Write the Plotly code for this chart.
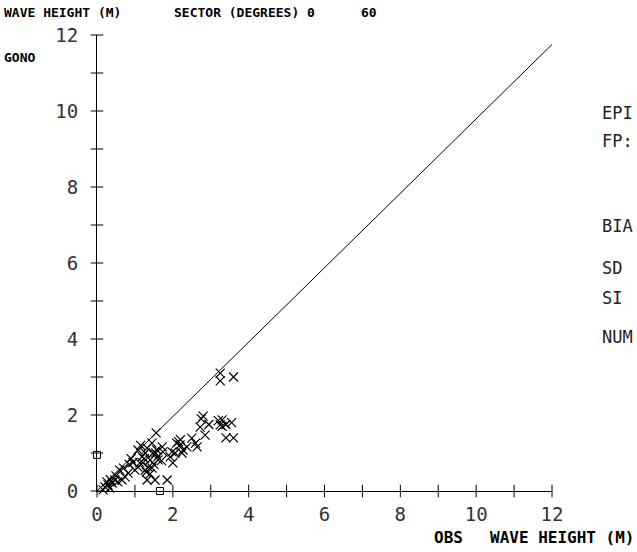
import plotly.graph_objects as go

# ---- data ----
obs_x = [3.25, 3.25, 3.6, 3.2, 3.4, 3.55, 3.3, 3.4, 3.6, 2.8, 2.75, 2.72, 2.95, 2.85,
         2.64, 2.6, 3.25, 3.3, 1.56, 1.45, 1.72, 2.1, 2.19, 2.27, 2.5, 2.37, 2.06, 1.93,
         2.0, 1.85, 1.53, 1.32, 1.27, 1.21, 1.35, 1.4, 1.19, 1.08, 1.13, 1.08, 1.0, 0.82,
         0.74, 0.66, 0.55, 0.47, 0.4, 0.29, 0.21, 0.26, 0.34, 0.16, 1.61, 1.74, 1.58,
         1.48, 1.27, 1.32, 1.98, 2.24, 1.15, 0.9, 0.6, 0.85, 1.45, 1.5, 1.3, 1.4, 0.5,
         0.35, 0.7, 0.95, 1.6, 1.7, 2.15, 2.2, 1.55, 1.25]
gono_y = [3.1, 2.9, 3.0, 1.85, 1.75, 1.8, 1.7, 1.4, 1.4, 1.97, 1.9, 1.68, 1.75, 1.47,
          1.16, 1.26, 1.74, 1.87, 1.53, 1.26, 1.16, 1.26, 1.21, 1.08, 1.39, 1.16, 1.0, 0.9,
          0.74, 0.29, 0.29, 0.29, 0.55, 0.74, 0.63, 0.82, 0.9, 1.08, 0.74, 0.63, 0.55, 0.47,
          0.37, 0.29, 0.24, 0.29, 0.21, 0.16, 0.11, 0.24, 0.08, 0.03, 0.82, 1.03, 1.08,
          1.0, 1.0, 1.13, 1.03, 1.0, 1.2, 0.85, 0.55, 0.7, 0.6, 0.7, 0.5, 0.45, 0.4,
          0.3, 0.6, 0.75, 0.9, 0.8, 1.3, 1.35, 1.0, 0.85]
square_x = [0.0, 1.66]
square_y = [0.95, 0.0]
ref_line_x = [0, 12.05]
ref_line_y = [0, 11.8]
tick_vals = list(range(0, 13))
label_vals = [0, 2, 4, 6, 8, 10, 12]
label_text = ["0", "2", "4", "6", "8", "10", "12"]
stat_labels = ["EPI", "FP:", "BIA", "SD", "SI", "NUM"]

W, H = 637, 552
L, R, T, B = 97, 552, 35, 491


def px(x):
    return (x - L) / (R - L)


def py(y):
    return (B - y) / (B - T)


fig = go.Figure()
fig.add_trace(go.Scatter(x=ref_line_x, y=ref_line_y, mode="lines", cliponaxis=False,
                         line=dict(color="black", width=1), hoverinfo="skip"))
fig.add_trace(go.Scatter(x=obs_x, y=gono_y, mode="markers", cliponaxis=False,
                         marker=dict(symbol="x-thin-open", size=9, color="black",
                                     line=dict(color="black", width=1.2))))
fig.add_trace(go.Scatter(x=square_x, y=square_y, mode="markers", cliponaxis=False,
                         marker=dict(symbol="square-open", size=7, color="black",
                                     line=dict(color="black", width=1))))
# crossing tick marks
fig.add_trace(go.Scatter(x=tick_vals, y=[0] * len(tick_vals), mode="markers", cliponaxis=False,
                         marker=dict(symbol="line-ns", size=9, line=dict(color="black", width=1)),
                         hoverinfo="skip"))
fig.add_trace(go.Scatter(x=[0] * len(tick_vals), y=tick_vals, mode="markers", cliponaxis=False,
                         marker=dict(symbol="line-ew", size=9, line=dict(color="black", width=1)),
                         hoverinfo="skip"))

tick_font = dict(family="DejaVu Sans Mono", size=19, color="#333")
fig.update_xaxes(range=[0, 12], showgrid=False, zeroline=False, showline=True,
                 linecolor="black", linewidth=1, tickvals=label_vals, ticktext=label_text,
                 ticks="", tickfont=tick_font, ticklabelstandoff=6)
fig.update_yaxes(range=[0, 12], showgrid=False, zeroline=False, showline=True,
                 linecolor="black", linewidth=1, tickvals=label_vals, ticktext=label_text,
                 ticks="", tickfont=tick_font, ticklabelstandoff=14)

hdr = dict(family="DejaVu Sans Mono", size=13, color="black")
foot = dict(family="DejaVu Sans Mono", size=16, color="black")
side = dict(family="DejaVu Sans Mono", size=17, color="#222")


def ann(text, x, y, font, anchor="left"):
    fig.add_annotation(text=text, xref="paper", yref="paper", x=px(x), y=py(y),
                       xanchor=anchor, yanchor="middle", showarrow=False, font=font)


ann("<b>WAVE HEIGHT (M)</b>", 2, 13, hdr)
ann("<b>SECTOR (DEGREES) 0</b>", 172, 13, hdr)
ann("<b>60</b>", 359, 13, hdr)
ann("<b>GONO</b>", 2, 57, hdr)
ann("<b>OBS</b>", 432, 537, foot)
ann("<b>WAVE HEIGHT (M)</b>", 488, 537, foot)
for t, y in zip(stat_labels, [113, 141, 226, 268, 298, 337]):
    ann(t, 600, y, side)

fig.update_layout(width=W, height=H, showlegend=False,
                  margin=dict(l=L, r=W - R, t=T, b=H - B),
                  plot_bgcolor="white", paper_bgcolor="white")
fig.write_html("out.html", config={"displayModeBar": False},
               post_script="document.body.style.margin='0';")
